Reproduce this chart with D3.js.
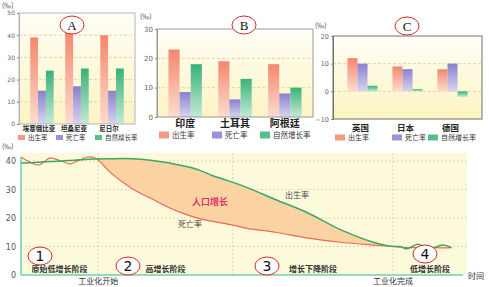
<html>
<head>
<meta charset="utf-8">
<script src="https://cdn.jsdelivr.net/npm/d3@7"></script>
<style>
body{margin:0;background:#fff;}
text{font-family:"Noto Sans CJK SC","DejaVu Sans",sans-serif;}
</style>
</head>
<body>
<svg id="chart" width="489" height="287"></svg>
<script>
// 出生率 / 死亡率 / 自然增长率 (‰)
var seriesNames = ["出生率", "死亡率", "自然增长率"];

var countriesA = ["埃塞俄比亚", "坦桑尼亚", "尼日尔"];
var birthA = [39, 41, 40];
var deathA = [15, 17, 15];
var naturalA = [24, 25, 25];
var ticksA = [0, 10, 20, 30, 40, 50];

var countriesB = ["印度", "土耳其", "阿根廷"];
var birthB = [23, 19, 18];
var deathB = [8.5, 6, 8];
var naturalB = [18, 13, 10];
var ticksB = [0, 10, 20, 30];

var countriesC = ["英国", "日本", "德国"];
var birthC = [12, 9, 8];
var deathC = [10, 8, 10];
var naturalC = [2, 0.8, -2];
var ticksC = [-10, 0, 10, 20];

// 人口增长模式 (时间 0-100)
var timeSteps = [0, 2, 4, 6.5, 9, 11, 13, 15, 17, 20, 25, 29, 33, 36, 40, 43, 47.5, 51, 57, 64, 71.5, 79, 83.5, 85, 86.5, 89, 91.5, 94.5, 96.5];
var birthRate = [39.3, 39.4, 39.6, 39.8, 40.0, 40.2, 40.4, 40.6, 40.7, 40.8, 40.8, 40.3, 39.4, 38.4, 36.8, 34.8, 32.5, 30.5, 26.5, 22, 16, 11.5, 10, 10, 9.2, 10.8, 9.1, 10.5, 9.6];
var deathRate = [41.4, 39.6, 38.6, 41, 40, 39, 40.2, 41.4, 40.7, 36, 30.2, 27, 23.8, 21.8, 19.8, 18.8, 17.5, 16.3, 15, 13, 11.5, 10.5, 10, 9.8, 9.6, 9.6, 9.7, 9.5, 9.6];
var stageBounds = [17.3, 47.5, 83.4];
var stageNames = ["原始低增长阶段", "高增长阶段", "增长下降阶段", "低增长阶段"];
var ticksD = [0, 10, 20, 30, 40];

var svg = d3.select("#chart");
var defs = svg.append("defs");
function vGrad(id, c1, c2) {
    var g = defs.append("linearGradient").attr("id", id)
        .attr("x1", 0).attr("y1", 0).attr("x2", 0).attr("y2", 1);
    g.append("stop").attr("offset", "0%").attr("stop-color", c1);
    g.append("stop").attr("offset", "100%").attr("stop-color", c2);
}
vGrad("bg", "#fffef7", "#fcf4c2");
vGrad("s0", "#f4876d", "#fcdcd0");
vGrad("s1", "#8a80cc", "#d8d4f0");
vGrad("s2", "#37b27a", "#c4ead5");
var legendColors = ["#f49a84", "#9a92d6", "#55bf8c"];

function marker(x, y, label, size) {
    svg.append("ellipse").attr("cx", x).attr("cy", y).attr("rx", 12).attr("ry", 9)
        .attr("fill", "#fff").attr("stroke", "#d42a2a").attr("stroke-width", 1);
    svg.append("text").attr("x", x).attr("y", y + size * 0.36)
        .attr("text-anchor", "middle").style("font-family", size > 13 ? "DejaVu Sans" : "Liberation Serif")
        .style("font-size", size + "px").attr("fill", "#111").text(label);
}

function barChart(o) {
    var g = svg.append("g");
    var y = d3.scaleLinear().domain(o.domain).range([o.bottom, o.top]);
    var x0 = d3.scaleBand().domain(o.cats).range([o.left, o.right])
        .paddingInner(0.33).paddingOuter(o.po);
    var x1 = d3.scaleBand().domain(seriesNames).range([0, x0.bandwidth()]);

    g.append("rect").attr("x", o.left).attr("y", o.top)
        .attr("width", o.right - o.left).attr("height", o.bottom - o.top)
        .attr("fill", "url(#bg)");

    g.selectAll(".grid").data(o.grid).enter().append("line")
        .attr("x1", o.left).attr("x2", o.right)
        .attr("y1", function(d){ return y(d); }).attr("y2", function(d){ return y(d); })
        .attr("stroke", "#e6c79a").attr("stroke-dasharray", "3,2").attr("stroke-width", 0.8);

    o.values.forEach(function(vals, j) {
        g.selectAll(".b" + j).data(vals).enter().append("rect")
            .attr("x", function(d, i){ return x0(o.cats[i]) + x1(seriesNames[j]); })
            .attr("y", function(d){ return Math.min(y(d), y(0)); })
            .attr("width", x1.bandwidth())
            .attr("height", function(d){ return Math.abs(y(d) - y(0)); })
            .attr("fill", "url(#s" + j + ")");
    });

    g.append("rect").attr("x", o.left).attr("y", o.top)
        .attr("width", o.right - o.left).attr("height", o.bottom - o.top)
        .attr("fill", "none").attr("stroke", o.frame).attr("stroke-width", 1);

    var ax = g.append("g").attr("transform", "translate(" + o.left + ",0)")
        .call(d3.axisLeft(y).tickValues(o.ticks).tickSize(2).tickPadding(2));
    ax.select(".domain").attr("stroke", o.frame);
    ax.selectAll(".tick line").attr("stroke", "#888");
    ax.selectAll("text").style("font-size", o.tickFont + "px").attr("fill", "#666")
        .style("font-family", "DejaVu Sans");

    g.selectAll(".cat").data(o.cats).enter().append("text")
        .attr("x", function(d){ return x0(d) + x0.bandwidth() / 2 + o.catDx; })
        .attr("y", o.catY).attr("text-anchor", "middle")
        .style("font-size", o.catFont + "px").style("font-weight", "bold")
        .attr("fill", "#222").text(function(d){ return d; });

    seriesNames.forEach(function(s, j) {
        g.append("rect").attr("x", o.legendX[j]).attr("y", o.legendY - o.sqH / 2)
            .attr("width", o.sqW).attr("height", o.sqH).attr("fill", legendColors[j]);
        g.append("text").attr("x", o.legendX[j] + o.sqW + o.legendGap)
            .attr("y", o.legendY + o.legendFont * 0.38)
            .style("font-size", o.legendFont + "px").attr("fill", "#333").text(s);
    });

    g.append("text").attr("x", o.unitX).attr("y", o.unitY)
        .style("font-size", "7px").attr("fill", "#444").text("(‰)");
    marker(o.letterX, o.letterY, o.letter, 13);
}

barChart({left: 19, right: 135, top: 13, bottom: 124, domain: [0, 50], ticks: ticksA, grid: [10, 20, 30, 40],
    cats: countriesA, values: [birthA, deathA, naturalA], po: 0.32, frame: "#b5b5b5", tickFont: 6,
    catFont: 6.5, catDx: -3, catY: 131, legendY: 137.5, legendX: [18, 56, 95], sqW: 7, sqH: 5, legendGap: 3, legendFont: 6.5,
    unitX: 2, unitY: 8, letter: "A", letterX: 72, letterY: 25});

barChart({left: 157, right: 313, top: 29, bottom: 117, domain: [0, 30], ticks: ticksB, grid: [10, 20],
    cats: countriesB, values: [birthB, deathB, naturalB], po: 0.23, frame: "#9a9a9a", tickFont: 7,
    catFont: 10, catDx: 0, catY: 127, legendY: 135, legendX: [159, 212, 260], sqW: 10, sqH: 7, legendGap: 3, legendFont: 7.5,
    unitX: 140, unitY: 19, letter: "B", letterX: 244, letterY: 25});

barChart({left: 333, right: 482, top: 36, bottom: 119, domain: [-10, 20], ticks: ticksC, grid: [0, 10],
    cats: countriesC, values: [birthC, deathC, naturalC], po: 0.32, frame: "#707070", tickFont: 6.5,
    catFont: 8.5, catDx: -2, catY: 131, legendY: 137.5, legendX: [335, 392, 428], sqW: 10, sqH: 6, legendGap: 3, legendFont: 7,
    unitX: 315, unitY: 28, letter: "C", letterX: 407, letterY: 26});

// 人口增长模式图
var x = d3.scaleLinear().domain([0, 100]).range([21, 467]);
var y = d3.scaleLinear().domain([0, 40]).range([275, 161]);
var d = svg.append("g");

d.append("rect").attr("x", x(0)).attr("y", 153).attr("width", x(100) - x(0)).attr("height", y(0) - 153)
    .attr("fill", "#fdfadb");

d.selectAll(".hg").data(ticksD.slice(1)).enter().append("line")
    .attr("x1", x(0)).attr("x2", x(100))
    .attr("y1", function(v){ return y(v); }).attr("y2", function(v){ return y(v); })
    .attr("stroke", "#e2cba0").attr("stroke-dasharray", "2,2").attr("stroke-width", 0.8);

d.selectAll(".vg").data(stageBounds).enter().append("line")
    .attr("x1", function(v){ return x(v); }).attr("x2", function(v){ return x(v); })
    .attr("y1", 153).attr("y2", y(0))
    .attr("stroke", "#d8c8a8").attr("stroke-dasharray", "2,2").attr("stroke-width", 0.8);

var pts = timeSteps.map(function(t, i){ return {t: t, b: birthRate[i], dr: deathRate[i]}; });
var curve = d3.curveCatmullRom.alpha(0.5);

defs.append("clipPath").attr("id", "grow").append("rect")
    .attr("x", x(stageBounds[0])).attr("y", 150)
    .attr("width", x(stageBounds[2]) - x(stageBounds[0])).attr("height", 130);

d.append("path").datum(pts).attr("clip-path", "url(#grow)")
    .attr("d", d3.area().curve(curve).x(function(p){ return x(p.t); })
        .y0(function(p){ return y(p.dr); }).y1(function(p){ return y(p.b); }))
    .attr("fill", "#fbd3a2");

d.append("path").datum(pts)
    .attr("d", d3.line().curve(curve).x(function(p){ return x(p.t); }).y(function(p){ return y(p.dr); }))
    .attr("fill", "none").attr("stroke", "#ea6a55").attr("stroke-width", 1.2);
d.append("path").datum(pts)
    .attr("d", d3.line().curve(curve).x(function(p){ return x(p.t); }).y(function(p){ return y(p.b); }))
    .attr("fill", "none").attr("stroke", "#3aa862").attr("stroke-width", 1.5);

// axes
d.append("line").attr("x1", x(0)).attr("x2", x(0)).attr("y1", y(0)).attr("y2", y(41.5))
    .attr("stroke", "#6ccfb8").attr("stroke-width", 1.5);
d.append("line").attr("x1", x(0)).attr("x2", 463).attr("y1", y(0)).attr("y2", y(0))
    .attr("stroke", "#6ccfb8").attr("stroke-width", 1.5);
var ay = d.append("g").attr("transform", "translate(" + x(0) + ",0)")
    .call(d3.axisLeft(y).tickValues(ticksD).tickSize(0).tickPadding(5));
ay.select(".domain").remove();
ay.selectAll("text").style("font-size", "8px").attr("fill", "#555").style("font-family", "DejaVu Sans");

d.append("text").attr("x", 2).attr("y", 149).style("font-size", "7px").attr("fill", "#444").text("(‰)");
d.append("text").attr("x", 468).attr("y", 279).style("font-size", "8px").attr("fill", "#333").text("时间");

d.append("text").attr("x", 285).attr("y", 198).style("font-size", "8px").attr("fill", "#444").text("出生率");
d.append("text").attr("x", 178).attr("y", 227).style("font-size", "8px").attr("fill", "#444").text("死亡率");
d.append("text").attr("x", 192).attr("y", 205).style("font-size", "9px").style("font-weight", "bold")
    .attr("fill", "#e0336a").text("人口增长");

var bounds = [0].concat(stageBounds, [100]);
d.selectAll(".stage").data(stageNames).enter().append("text")
    .attr("x", function(s, i){ return x((bounds[i] + bounds[i + 1]) / 2); })
    .attr("y", 272).attr("text-anchor", "middle")
    .style("font-size", "8px").style("font-weight", "bold").attr("fill", "#333")
    .text(function(s){ return s; });

d.append("text").attr("x", x(stageBounds[0])).attr("y", 284).attr("text-anchor", "middle")
    .style("font-size", "8px").attr("fill", "#333").text("工业化开始");
d.append("text").attr("x", x(stageBounds[2])).attr("y", 284).attr("text-anchor", "middle")
    .style("font-size", "8px").attr("fill", "#333").text("工业化完成");

marker(40, 256, "1", 14);
marker(128, 266, "2", 14);
marker(267, 266, "3", 14);
marker(425, 254, "4", 14);
</script>
</body>
</html>
